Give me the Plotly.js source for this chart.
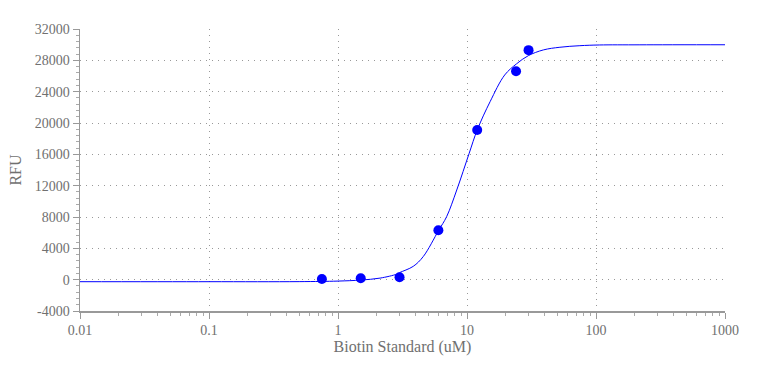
<!DOCTYPE html>
<html>
<head>
<meta charset="utf-8">
<script src="https://cdn.plot.ly/plotly-3.0.1.min.js"></script>
<style>html,body{margin:0;padding:0;background:#fff;}#chart{width:766px;height:370px;}</style>
</head>
<body>
<div id="chart"></div>
<script>
// Measured standards
var concentrations = [0.75, 1.5, 3, 6, 12, 24, 30];
var rfu = [80, 180, 300, 6300, 19100, 26600, 29300];

// Fitted curve
var curveX = [0.01, 0.1, 0.5, 1, 1.5, 2.12, 2.85, 3.0, 3.83, 4.58, 6.03, 6.95, 8.33, 10.4, 12.0, 15.1, 19.6, 24.2, 29.9, 39.1, 52.5, 75, 106, 219, 1000];
var curveY = [-260, -260, -250, -180, -50, 200, 700, 900, 1700, 2950, 6300, 8040, 11450, 16140, 19110, 22720, 26130, 27550, 28600, 29330, 29670, 29870, 29960, 29980, 29990];

var xTickVals = [0.01, 0.1, 1, 10, 100, 1000];
var xTickText = ['0.01', '0.1', '1', '10', '100', '1000'];
var yTickVals = [-4000, 0, 4000, 8000, 12000, 16000, 20000, 24000, 28000, 32000];
var yTickText = ['-4000', '0', '4000', '8000', '12000', '16000', '20000', '24000', '28000', '32000'];

var fontFam = 'Liberation Serif, Times New Roman, serif';
var textCol = '#707070';

var traces = [
  {x: curveX, y: curveY, type: 'scatter', mode: 'lines',
   line: {color: '#0000ff', width: 1, shape: 'spline', smoothing: 1}, hoverinfo: 'skip'},
  {x: concentrations, y: rfu, type: 'scatter', mode: 'markers',
   marker: {color: '#0000ff', size: 10}}
];

var layout = {
  width: 766, height: 370,
  margin: {l: 80, r: 41, t: 29, b: 59},
  paper_bgcolor: '#fff', plot_bgcolor: '#fff',
  showlegend: false,
  font: {family: fontFam, size: 14, color: textCol},
  xaxis: {
    type: 'log', range: [-2, 3],
    tickvals: xTickVals, ticktext: xTickText,
    showline: true, linecolor: '#999', linewidth: 1.5,
    ticks: 'outside', ticklen: 6, tickcolor: '#999',
    showgrid: true, gridcolor: '#999', griddash: '1px,5px', gridwidth: 1,
    zeroline: false,
    minor: {ticks: 'outside', ticklen: 3, tickcolor: '#aaa', dtick: 'D1', showgrid: false},
    title: {text: 'Biotin Standard (uM)', font: {family: fontFam, size: 16, color: textCol}, standoff: 3},
    tickfont: {family: fontFam, size: 14, color: textCol}
  },
  yaxis: {
    range: [-4000, 32000],
    tickvals: yTickVals, ticktext: yTickText,
    showline: true, linecolor: '#999', linewidth: 1.5,
    ticks: 'outside', ticklen: 6, tickcolor: '#999',
    showgrid: true, gridcolor: '#999', griddash: '1px,5px', gridwidth: 1,
    zeroline: false,
    minor: {ticks: 'outside', ticklen: 3, tickcolor: '#aaa', dtick: 800, showgrid: false},
    title: {text: 'RFU', font: {family: fontFam, size: 16, color: textCol}, standoff: 9},
    tickfont: {family: fontFam, size: 14, color: textCol}
  }
};

Plotly.newPlot('chart', traces, layout, {displayModeBar: false, staticPlot: true});
</script>
</body>
</html>
